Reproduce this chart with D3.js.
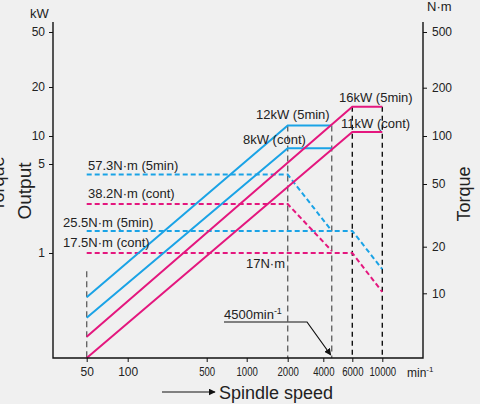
<!DOCTYPE html>
<html>
<head>
<meta charset="utf-8">
<script src="https://cdn.jsdelivr.net/npm/d3@7"></script>
<style>
body { margin: 0; background: #f0f0f0; }
svg { display: block; font-family: "Liberation Sans", Arial, Helvetica, sans-serif; }
.axis path.domain { display: none; }
.axis line { stroke: #111; }
.axis text { fill: #222; }
</style>
</head>
<body>
<div id="chart"></div>
<script>
// tick values
const speedTicks = [50, 100, 500, 1000, 2000, 4000, 6000, 10000];
const powerTicks = [1, 5, 10, 20, 50];
const torqueTicks = [10, 20, 50, 100, 200, 500];

// output (kW) against spindle speed (min-1)
const output5minBlue = [[50, 0.45], [2000, 11.6], [4500, 11.6]];
const outputContBlue = [[50, 0.31], [2000, 7.4], [4500, 7.4]];
const output5minPink = [[50, 0.22], [6000, 15.1], [10000, 15.1]];
const outputContPink = [[50, 0.15], [6000, 10.6], [10000, 10.6]];

// torque (N·m) against spindle speed (min-1)
const torque5minBlue = [[50, 57.3], [2000, 57.3], [4500, 25.2]];
const torqueContPink = [[50, 37.3], [2000, 37.3], [4500, 18.8]];
const torque5minBlue2 = [[50, 25.2], [6000, 25.2], [10000, 14.3]];
const torqueContPink2 = [[50, 18.2], [6000, 18.2], [10000, 10.2]];

// vertical guide lines: speed, top on the output scale
const guideSpeeds = [50, 2000, 4500, 6000, 10000];
const guideTops = [0.72, 11.6, 11.6, 15.1, 15.1];

const W = 480, H = 404;
const plot = {left: 53, right: 423, top: 22, bottom: 358};
const colors = {blue: '#1aa3e6', pink: '#e4177e', grey: '#666', black: '#111'};

// the printed axes are only roughly logarithmic, so anchor each tick
const x = d3.scaleLog().domain(speedTicks)
    .range([86.7, 127.7, 206.7, 246.7, 287.7, 323.3, 352.3, 382.3]);
const yP = d3.scaleLog().domain(powerTicks).range([253, 164, 136, 87, 32]);
const yT = d3.scaleLog().domain(torqueTicks).range([293.3, 246.7, 184, 136, 87.7, 32]);

const svg = d3.select('#chart').append('svg')
    .attr('width', W).attr('height', H);

const defs = svg.append('defs');
defs.append('marker')
    .attr('id', 'arrow')
    .attr('viewBox', '0 0 10 10')
    .attr('refX', 9).attr('refY', 5)
    .attr('markerWidth', 7).attr('markerHeight', 7)
    .attr('markerUnits', 'userSpaceOnUse')
    .attr('orient', 'auto')
    .append('path').attr('d', 'M0,0L10,5L0,10z').attr('fill', '#111');

// guide lines
guideSpeeds.forEach((s, i) => {
    svg.append('line')
        .attr('x1', x(s)).attr('x2', x(s))
        .attr('y1', yP(guideTops[i])).attr('y2', plot.bottom)
        .attr('stroke', s >= 6000 ? colors.black : colors.grey)
        .attr('stroke-width', 1.4)
        .attr('stroke-dasharray', s >= 6000 ? '5,4' : '6,4');
});

// torque lines (dashed)
const torqueLine = d3.line().x(d => x(d[0])).y(d => yT(d[1]));
[[torque5minBlue, colors.blue], [torque5minBlue2, colors.blue],
 [torqueContPink, colors.pink], [torqueContPink2, colors.pink]].forEach(([data, c]) => {
    svg.append('path')
        .datum(data)
        .attr('d', torqueLine)
        .attr('fill', 'none')
        .attr('stroke', c)
        .attr('stroke-width', 2)
        .attr('stroke-dasharray', '5,3');
});

// output lines (solid)
const powerLine = d3.line().x(d => x(d[0])).y(d => yP(d[1]));
[[output5minBlue, colors.blue], [outputContBlue, colors.blue],
 [output5minPink, colors.pink], [outputContPink, colors.pink]].forEach(([data, c]) => {
    svg.append('path')
        .datum(data)
        .attr('d', powerLine)
        .attr('fill', 'none')
        .attr('stroke', c)
        .attr('stroke-width', 2);
});

// frame (left, bottom, right)
svg.append('path')
    .attr('d', `M${plot.left},${plot.top}V${plot.bottom}H${plot.right}V${plot.top}`)
    .attr('fill', 'none')
    .attr('stroke', '#111')
    .attr('stroke-width', 1.4);

// axes
const xAxis = svg.append('g')
    .attr('class', 'axis')
    .attr('transform', `translate(0,${plot.bottom})`)
    .call(d3.axisBottom(x).tickValues(speedTicks).tickFormat(d => d)
        .tickSizeInner(4).tickSizeOuter(0).tickPadding(5));
xAxis.selectAll('text')
    .style('font-size', '12px')
    .attr('transform', d => d >= 500 ? 'scale(0.8,1)' : null);

svg.append('g')
    .attr('class', 'axis')
    .attr('transform', `translate(${plot.left},0)`)
    .call(d3.axisLeft(yP).tickValues(powerTicks).tickFormat(d => d)
        .tickSizeInner(4).tickSizeOuter(0).tickPadding(4))
    .selectAll('text').style('font-size', '12px');

svg.append('g')
    .attr('class', 'axis')
    .attr('transform', `translate(${plot.right},0)`)
    .call(d3.axisRight(yT).tickValues(torqueTicks).tickFormat(d => d)
        .tickSizeInner(4).tickSizeOuter(0).tickPadding(5))
    .selectAll('text').style('font-size', '12px');

// unit labels
svg.append('text').attr('x', 30).attr('y', 18).text('kW')
    .style('font-size', '13px').attr('fill', '#222');
svg.append('text').attr('x', 427).attr('y', 11).text('N·m')
    .style('font-size', '13px').attr('fill', '#222');

const minUnit = svg.append('text').attr('x', 407).attr('y', 377)
    .style('font-size', '12px').attr('fill', '#222');
minUnit.append('tspan').text('min');
minUnit.append('tspan').attr('dy', -5).style('font-size', '8px').text('-1');

// axis titles (the left "Torque" runs off the page edge, as in the print)
svg.append('text')
    .attr('transform', 'translate(4,184) rotate(-90)')
    .attr('text-anchor', 'middle')
    .style('font-size', '18px').attr('fill', '#222')
    .text('Torque');
svg.append('text')
    .attr('transform', 'translate(31,191) rotate(-90)')
    .attr('text-anchor', 'middle')
    .style('font-size', '19px').attr('fill', '#222')
    .text('Output');
svg.append('text')
    .attr('transform', 'translate(470,194) rotate(-90)')
    .attr('text-anchor', 'middle')
    .style('font-size', '18px').attr('fill', '#222')
    .text('Torque');

svg.append('line')
    .attr('x1', 162).attr('x2', 215).attr('y1', 392).attr('y2', 392)
    .attr('stroke', '#111').attr('stroke-width', 1.2)
    .attr('marker-end', 'url(#arrow)');
svg.append('text').attr('x', 219).attr('y', 399)
    .style('font-size', '18px').attr('fill', '#222')
    .text('Spindle speed');

// curve labels
const labels = [
    ['57.3N·m (5min)', 88, 170],
    ['38.2N·m (cont)', 88, 198],
    ['25.5N·m (5min)', 63, 227],
    ['17.5N·m (cont)', 63, 247],
    ['12kW (5min)', 256, 119],
    ['8kW (cont)', 243, 144],
    ['16kW (5min)', 339, 102],
    ['11kW (cont)', 341, 128],
    ['17N·m', 246, 268]
];
svg.selectAll('text.curve-label')
    .data(labels)
    .join('text')
    .attr('class', 'curve-label')
    .attr('x', d => d[1]).attr('y', d => d[2])
    .style('font-size', '13px').attr('fill', '#222')
    .text(d => d[0]);

// 4500 min-1 callout
const callout = svg.append('text').attr('x', 224).attr('y', 319)
    .style('font-size', '13px').attr('fill', '#222');
callout.append('tspan').text('4500min');
callout.append('tspan').attr('dy', -5).style('font-size', '9px').text('-1');

svg.append('path')
    .attr('d', `M224,322H307L${x(4500) - 1},${plot.bottom - 3}`)
    .attr('fill', 'none')
    .attr('stroke', '#111')
    .attr('stroke-width', 1.2)
    .attr('marker-end', 'url(#arrow)');
</script>
</body>
</html>
